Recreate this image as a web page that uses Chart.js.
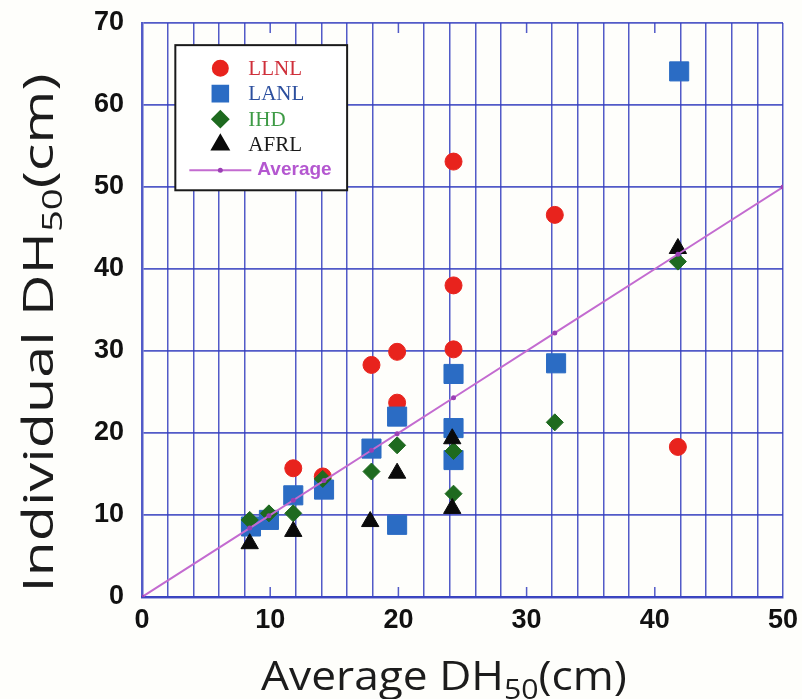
<!DOCTYPE html>
<html>
<head>
<meta charset="utf-8">
<script src="https://cdn.jsdelivr.net/npm/chart.js@4.4.0/dist/chart.umd.min.js"></script>
<style>
  html, body { margin: 0; padding: 0; background: #fefefb; }
</style>
</head>
<body>
<canvas id="chart" width="802" height="699"></canvas>
<script>
// Average DH50 (x) vs individual lab DH50 (y), in cm
const llnlX = [11.8, 14.1, 17.9, 19.9, 19.9, 24.3, 24.3, 24.3, 32.2, 41.8];
const llnlY = [15.7, 14.7, 28.3, 29.9, 23.7, 53.1, 38.0, 30.2, 46.6, 18.3];

const lanlX = [8.5, 9.9, 11.8, 14.2, 17.9, 19.9, 19.9, 24.3, 24.3, 24.3, 32.3, 41.9];
const lanlY = [8.6, 9.4, 12.4, 13.1, 18.1, 22.0, 8.8, 27.2, 20.6, 16.7, 28.5, 64.1];

const ihdX = [8.4, 9.9, 11.8, 14.1, 17.9, 19.9, 24.3, 24.3, 32.2, 41.8];
const ihdY = [9.4, 10.2, 10.2, 14.4, 15.3, 18.5, 17.8, 12.6, 21.3, 40.9];

const afrlX = [8.4, 11.8, 17.8, 19.9, 24.2, 24.2, 41.8];
const afrlY = [6.5, 8.0, 9.2, 15.1, 19.3, 10.8, 42.5];

const avgX = [0, 8.4, 9.9, 11.8, 14.2, 17.9, 19.9, 24.3, 32.2, 41.8, 50];
const avgY = [0, 8.4, 9.9, 11.8, 14.2, 17.9, 19.9, 24.3, 32.2, 41.8, 50];

const xTicks = [0, 10, 20, 30, 40, 50];
const yTicks = [0, 10, 20, 30, 40, 50, 60, 70];

const GRID = 'rgba(52, 62, 190, 0.85)';
const pts = (xs, ys) => xs.map((x, i) => ({ x, y: ys[i] }));

// legend + axis titles are drawn by hand so they can sit inside the plot / use subscripts
const legendItems = [
  { label: 'LLNL', style: 'circle', color: '#e8231d', text: '#cf2f3a', r: 7.5 },
  { label: 'LANL', style: 'rect', color: '#2b6cc4', text: '#2c4f9e', r: 11 },
  { label: 'IHD', style: 'rectRot', color: '#1e6a1f', text: '#3d9a45', r: 8 },
  { label: 'AFRL', style: 'triangle', color: '#0a0a0a', text: '#1a1a1a', r: 9.5 },
];

function drawSubText(ctx, parts) {
  let total = 0;
  parts.forEach((p) => {
    ctx.font = p.font;
    p.w = ctx.measureText(p.text).width;
    total += p.w;
  });
  let x = -total / 2;
  parts.forEach((p) => {
    ctx.font = p.font;
    ctx.fillText(p.text, x, p.dy || 0);
    x += p.w;
  });
}

const extras = {
  id: 'extras',
  afterDraw(chart) {
    const ctx = chart.ctx;
    const xs = chart.scales.x;
    const ys = chart.scales.y;
    const area = chart.chartArea;

    // short inner ticks at the labelled x positions
    ctx.save();
    ctx.strokeStyle = GRID;
    ctx.lineWidth = 1.5;
    [10, 20, 30, 40].forEach((v) => {
      const px = xs.getPixelForValue(v);
      ctx.beginPath();
      ctx.moveTo(px, area.bottom);
      ctx.lineTo(px, area.bottom - 10);
      ctx.moveTo(px, area.top);
      ctx.lineTo(px, area.top + 10);
      ctx.stroke();
    });
    ctx.restore();

    // legend box
    const l = xs.getPixelForValue(2.6);
    const r = xs.getPixelForValue(16);
    const t = ys.getPixelForValue(67.3);
    const b = ys.getPixelForValue(49.6);
    ctx.save();
    ctx.fillStyle = '#ffffff';
    ctx.fillRect(l, t, r - l, b - t);
    ctx.strokeStyle = '#1a1a1a';
    ctx.lineWidth = 2;
    ctx.strokeRect(l, t, r - l, b - t);

    const symX = l + 45;
    let rowY = t + 23;
    ctx.textBaseline = 'middle';
    legendItems.forEach((it) => {
      ctx.fillStyle = it.color;
      ctx.strokeStyle = it.color;
      Chart.helpers.drawPoint(ctx, { pointStyle: it.style, radius: it.r, borderWidth: 1 }, symX, rowY);
      ctx.fillStyle = it.text;
      ctx.font = '21px "Liberation Serif"';
      ctx.fillText(it.label, l + 73, rowY + 1);
      rowY += 25.5;
    });
    ctx.strokeStyle = '#c36bd0';
    ctx.lineWidth = 2;
    ctx.beginPath();
    ctx.moveTo(l + 14, rowY);
    ctx.lineTo(l + 76, rowY);
    ctx.stroke();
    ctx.fillStyle = '#9b3fb5';
    ctx.beginPath();
    ctx.arc(symX, rowY, 2.5, 0, Math.PI * 2);
    ctx.fill();
    ctx.fillStyle = '#b457d0';
    ctx.font = 'bold 19px "Liberation Sans"';
    ctx.fillText('Average', l + 82, rowY);
    ctx.restore();

    // axis titles
    ctx.save();
    ctx.fillStyle = '#1c1c1c';
    ctx.textBaseline = 'alphabetic';
    ctx.translate(444, 690);
    ctx.scale(1.08, 1);
    drawSubText(ctx, [
      { text: 'Average DH', font: '41px "Open Sans"' },
      { text: '50', font: '28px "Open Sans"', dy: 9 },
      { text: '(cm)', font: '41px "Open Sans"' },
    ]);
    ctx.restore();

    ctx.save();
    ctx.fillStyle = '#1c1c1c';
    ctx.translate(53, 333);
    ctx.rotate(-Math.PI / 2);
    ctx.scale(1.37, 1);
    drawSubText(ctx, [
      { text: 'Individual DH', font: '42px "Open Sans"' },
      { text: '50', font: '28px "Open Sans"', dy: 9 },
      { text: '(cm)', font: '42px "Open Sans"' },
    ]);
    ctx.restore();
  },
};

new Chart(document.getElementById('chart').getContext('2d'), {
  type: 'scatter',
  data: {
    datasets: [
      {
        label: 'Average',
        data: pts(avgX, avgY),
        showLine: true,
        borderColor: '#c36bd0',
        borderWidth: 2,
        pointRadius: 2.5,
        pointBackgroundColor: '#9b3fb5',
        pointBorderWidth: 0,
        order: 0,
      },
      {
        label: 'AFRL',
        data: pts(afrlX, afrlY),
        pointStyle: 'triangle',
        pointRadius: 10,
        backgroundColor: '#0a0a0a',
        borderColor: '#0a0a0a',
        order: 1,
      },
      {
        label: 'IHD',
        data: pts(ihdX, ihdY),
        pointStyle: 'rectRot',
        pointRadius: 8.5,
        backgroundColor: '#1e6a1f',
        borderColor: '#1e6a1f',
        order: 2,
      },
      {
        label: 'LANL',
        data: pts(lanlX, lanlY),
        pointStyle: 'rect',
        pointRadius: 13.5,
        backgroundColor: '#2b6cc4',
        borderColor: '#2b6cc4',
        order: 3,
      },
      {
        label: 'LLNL',
        data: pts(llnlX, llnlY),
        pointStyle: 'circle',
        pointRadius: 8.5,
        backgroundColor: '#e8231d',
        borderColor: '#e8231d',
        order: 4,
      },
    ],
  },
  options: {
    responsive: false,
    animation: false,
    layout: { padding: { top: 23, right: 19, left: 0, bottom: 0 } },
    plugins: {
      legend: { display: false },
      tooltip: { enabled: false },
    },
    scales: {
      x: {
        type: 'linear',
        min: 0,
        max: 50,
        afterFit: (s) => {
          s.height = 102;
          s.paddingLeft = 0;
          s.paddingRight = 0;
        },
        afterBuildTicks: (s) => {
          // every 2 cm for the grid, labels only on xTicks
          const t = [];
          for (let v = 0; v <= 50; v += 2) t.push({ value: v });
          xTicks.forEach((v) => { if (v % 2) t.push({ value: v }); });
          s.ticks = t;
        },
        grid: {
          drawTicks: false,
          lineWidth: 1.5,
          color: (c) => {
            const v = c.tick ? c.tick.value : 0;
            return xTicks.includes(v) && v !== 50 ? 'rgba(0,0,0,0)' : GRID;
          },
        },
        border: { color: GRID, width: 2.5 },
        ticks: {
          autoSkip: false,
          maxRotation: 0,
          padding: 7,
          color: '#111',
          font: { family: 'Liberation Sans', weight: 'bold', size: 27 },
          callback: (v) => (xTicks.includes(v) ? v : ''),
        },
      },
      y: {
        type: 'linear',
        min: 0,
        max: 70,
        afterFit: (s) => {
          s.width = 142;
          s.paddingTop = 0;
          s.paddingBottom = 0;
        },
        afterBuildTicks: (s) => { s.ticks = yTicks.map((v) => ({ value: v })); },
        grid: { drawTicks: false, lineWidth: 1.8, color: GRID },
        border: { color: GRID, width: 2.5 },
        ticks: {
          padding: 18,
          color: '#111',
          font: { family: 'Liberation Sans', weight: 'bold', size: 27 },
        },
      },
    },
  },
  plugins: [extras],
});
</script>
</body>
</html>
